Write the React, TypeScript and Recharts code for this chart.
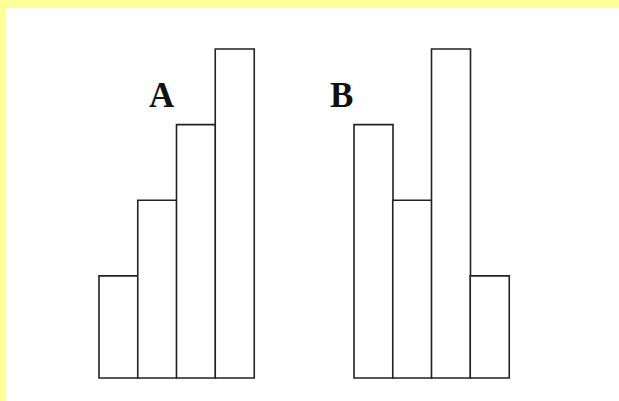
import { BarChart, Bar, XAxis, YAxis } from 'recharts';

const categoriesA = ['a1', 'a2', 'a3', 'a4'];
const valuesA = [1.35, 2.35, 3.35, 4.35];
const categoriesB = ['b1', 'b2', 'b3', 'b4'];
const valuesB = [3.35, 2.35, 4.35, 1.35];
const yMax = 4.35;

const dataA = categoriesA.map((name, i) => ({ name, value: valuesA[i] }));
const dataB = categoriesB.map((name, i) => ({ name, value: valuesB[i] }));

const labelStyle: React.CSSProperties = {
  position: 'absolute',
  fontFamily: '"Liberation Serif", "DejaVu Serif", serif',
  fontWeight: 'bold',
  fontSize: 35,
  lineHeight: 1,
  color: '#111',
};

function Histogram({ data, left }: { data: { name: string; value: number }[]; left: number }) {
  return (
    <div style={{ position: 'absolute', left, top: 44 }}>
      <BarChart
        width={165}
        height={339}
        data={data}
        margin={{ top: 5, right: 5, bottom: 5, left: 5 }}
        barCategoryGap={0}
        barGap={0}
      >
        <XAxis dataKey="name" hide />
        <YAxis hide domain={[0, yMax]} />
        <Bar dataKey="value" fill="#ffffff" stroke="#222222" strokeWidth={1.6} isAnimationActive={false} />
      </BarChart>
    </div>
  );
}

export default function App() {
  return (
    <div style={{ position: 'fixed', left: 0, top: 0, width: 619, height: 401, background: '#ffff99' }}>
      <div style={{ position: 'absolute', left: 6, top: 8, right: 0, bottom: 0, background: '#ffffff' }} />
      <Histogram data={dataA} left={94} />
      <Histogram data={dataB} left={349} />
      <span style={{ ...labelStyle, left: 149, top: 78 }}>A</span>
      <span style={{ ...labelStyle, left: 330, top: 78 }}>B</span>
    </div>
  );
}
